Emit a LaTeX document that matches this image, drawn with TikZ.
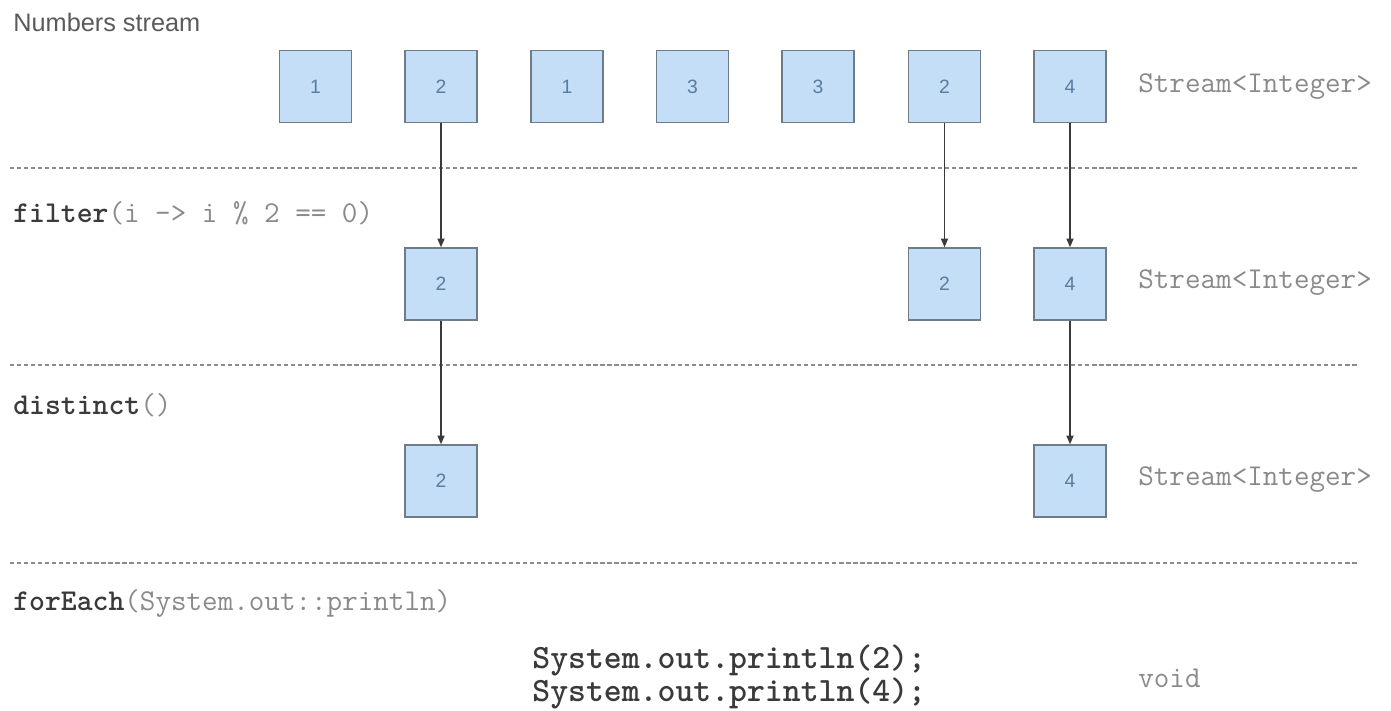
\documentclass[tikz,border=0pt]{standalone}
\usepackage{fontspec}
\setmainfont{Liberation Sans}
\usepackage{tikz}
\usetikzlibrary{arrows.meta,positioning}
\definecolor{kutuDolgu}{HTML}{C3DEF6}
\definecolor{kutuCizgi}{HTML}{6E7C88}
\definecolor{sayiRenk}{HTML}{5A7C9E}
\definecolor{kodGri}{HTML}{8A8A8A}
\definecolor{kodKoyu}{HTML}{3A3A3A}
\definecolor{yaziGri}{HTML}{5A5A5A}
\definecolor{ciziGri}{HTML}{8C8C8C}

\begin{document}
\begin{tikzpicture}[x=0.02cm, y=-0.02cm,
  elem/.style={draw=kutuCizgi,fill=kutuDolgu,line width=0.8pt,minimum width=1.44cm,minimum height=1.44cm,
               inner sep=0pt,font=\fontsize{11}{13}\selectfont,text=sayiRenk},
  tur/.style={anchor=west,inner sep=0pt,font=\ttfamily\fontsize{17.2}{20}\selectfont,text=kodGri},
  islem/.style={anchor=west,inner sep=0pt,font=\ttfamily\fontsize{17.2}{20}\selectfont,text=kodGri},
  ayrac/.style={ciziGri,line width=0.8pt,dash pattern=on 2.4pt off 1.6pt},
  ok/.style={-{Triangle[length=5pt,width=4pt]},kodKoyu,line width=0.9pt}]
\useasboundingbox (0,0) rectangle (1391,710);
\node[anchor=west,inner sep=0pt,font=\fontsize{14.4}{17}\selectfont,text=yaziGri] (baslik) at (13,22) {Numbers stream};
% numbers stream
\node[elem] (n1) at (315.5,86.5) {1};
\node[elem] (n2) at (441,86.5) {2};
\node[elem] (n3) at (567,86.5) {1};
\node[elem] (n4) at (692.5,86.5) {3};
\node[elem] (n5) at (818,86.5) {3};
\node[elem] (n6) at (944.5,86.5) {2};
\node[elem] (n7) at (1070,86.5) {4};
\node[tur] (t1) at (1138,87) {Stream<Integer>};
\coordinate (a1) at (10,168); \coordinate (b1) at (1357,168);
\draw[ayrac] (a1)--(b1);
% filter
\node[islem] (filtre) at (13,213) {\textbf{\color{kodKoyu}filter}(i -> i \% 2 == 0)};
\node[elem] (f2) at (441,284) {2};
\node[elem] (f6) at (944.5,284) {2};
\node[elem] (f7) at (1070,284) {4};
\node[tur] (t2) at (1138,283) {Stream<Integer>};
\draw[ok] (n2)--(f2); \draw[ok] (n6)--(f6); \draw[ok] (n7)--(f7);
\coordinate (a2) at (10,365); \coordinate (b2) at (1357,365);
\draw[ayrac] (a2)--(b2);
% distinct
\node[islem] (tekil) at (13,405) {\textbf{\color{kodKoyu}distinct}()};
\node[elem] (d2) at (441,481) {2};
\node[elem] (d7) at (1070,481) {4};
\node[tur] (t3) at (1138,480) {Stream<Integer>};
\draw[ok] (f2)--(d2); \draw[ok] (f7)--(d7);
\coordinate (a3) at (10,563); \coordinate (b3) at (1357,563);
\draw[ayrac] (a3)--(b3);
% forEach
\node[islem] (herbiri) at (13,603) {\textbf{\color{kodKoyu}forEach}(System.out::println)};
\node[anchor=west,inner sep=0pt,align=left,font=\ttfamily\bfseries\fontsize{19.4}{17.5}\selectfont,text=kodKoyu] (cikti) at (532,677)
  {System.out.println(2);\\System.out.println(4);};
\node[tur] (t4) at (1138,678) {void};
\end{tikzpicture}
\end{document}
